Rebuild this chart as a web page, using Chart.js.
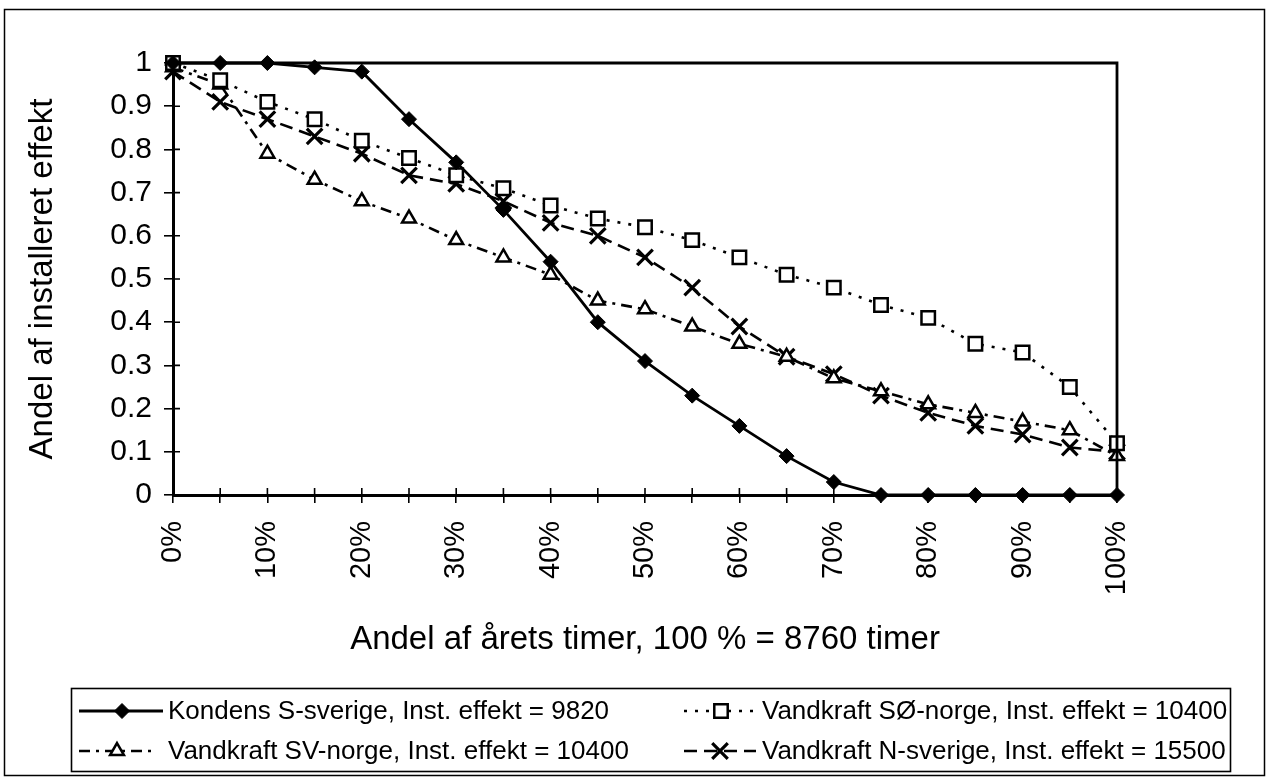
<!DOCTYPE html>
<html>
<head>
<meta charset="utf-8">
<style>
  html, body { margin: 0; padding: 0; background: #fff; }
  #wrap { position: relative; width: 1268px; height: 779px; }
  canvas { display: block; }
</style>
<script src="https://cdn.jsdelivr.net/npm/chart.js@4.4.0/dist/chart.umd.min.js"></script>
</head>
<body>
<div id="wrap"><canvas id="c" width="1268" height="779"></canvas></div>
<script>
// ---------- data ----------
const categories = ['0%','5%','10%','15%','20%','25%','30%','35%','40%','45%','50%','55%','60%','65%','70%','75%','80%','85%','90%','95%','100%'];
const xTickLabels = ['0%','','10%','','20%','','30%','','40%','','50%','','60%','','70%','','80%','','90%','','100%'];
const yTickLabels = ['0','0.1','0.2','0.3','0.4','0.5','0.6','0.7','0.8','0.9','1'];
const seriesNames = [
  'Kondens S-sverige, Inst. effekt = 9820',
  'Vandkraft SØ-norge, Inst. effekt = 10400',
  'Vandkraft SV-norge, Inst. effekt = 10400',
  'Vandkraft N-sverige, Inst. effekt = 15500'
];
const kondensSSverige  = [1.00,1.00,1.00,0.99,0.98,0.87,0.77,0.66,0.54,0.40,0.31,0.23,0.16,0.09,0.03,0.00,0.00,0.00,0.00,0.00,0.00];
const vandkraftSONorge = [1.00,0.96,0.91,0.87,0.82,0.78,0.74,0.71,0.67,0.64,0.62,0.59,0.55,0.51,0.48,0.44,0.41,0.35,0.33,0.25,0.12];
const vandkraftSVNorge = [0.99,0.95,0.79,0.73,0.68,0.64,0.59,0.55,0.51,0.45,0.43,0.39,0.35,0.32,0.27,0.24,0.21,0.19,0.17,0.15,0.09];
const vandkraftNSverige= [0.98,0.91,0.87,0.83,0.79,0.74,0.72,0.68,0.63,0.60,0.55,0.48,0.39,0.32,0.28,0.23,0.19,0.16,0.14,0.11,0.10];
const xTitle = 'Andel af årets timer, 100 % = 8760 timer';
const yTitle = 'Andel af installeret effekt';

// ---------- styling ----------
const FONT = "'Liberation Sans', Arial, Helvetica, sans-serif";
Chart.defaults.font.family = FONT;
Chart.defaults.color = '#000';

const datasets = [
  { label: seriesNames[0], data: kondensSSverige, borderColor:'#000', borderWidth:2.8, borderDash:[],
    pointStyle:'rectRot', pointRadius:7.5, pointBackgroundColor:'#000', pointBorderColor:'#000', pointBorderWidth:1 },
  { label: seriesNames[1], data: vandkraftSONorge, borderColor:'#000', borderWidth:2.6, borderDash:[3,8],
    pointStyle:'rect', pointRadius:9.5, pointBackgroundColor:'#fff', pointBorderColor:'#000', pointBorderWidth:2.5 },
  { label: seriesNames[2], data: vandkraftSVNorge, borderColor:'#000', borderWidth:2.6, borderDash:[11,6,3,6],
    pointStyle:'triangle', pointRadius:8, pointBackgroundColor:'#fff', pointBorderColor:'#000', pointBorderWidth:2.5 },
  { label: seriesNames[3], data: vandkraftNSverige, borderColor:'#000', borderWidth:2.6, borderDash:[13,7],
    pointStyle:'crossRot', pointRadius:11, pointBackgroundColor:'#000', pointBorderColor:'#000', pointBorderWidth:3.2 }
].map(d => Object.assign(d, { fill:false, tension:0, clip:false, pointHoverRadius:d.pointRadius }));

function drawMarker(ctx, ds, x, y) {
  const r = ds.pointRadius;
  ctx.save();
  ctx.setLineDash([]);
  ctx.lineWidth = ds.pointBorderWidth;
  ctx.strokeStyle = ds.pointBorderColor;
  ctx.fillStyle = ds.pointBackgroundColor;
  ctx.beginPath();
  if (ds.pointStyle === 'rectRot') {
    ctx.moveTo(x, y - r); ctx.lineTo(x + r, y); ctx.lineTo(x, y + r); ctx.lineTo(x - r, y); ctx.closePath();
    ctx.fill(); ctx.stroke();
  } else if (ds.pointStyle === 'rect') {
    const s = r * Math.SQRT1_2;
    ctx.rect(x - s, y - s, 2 * s, 2 * s); ctx.fill(); ctx.stroke();
  } else if (ds.pointStyle === 'triangle') {
    ctx.moveTo(x, y - r);
    ctx.lineTo(x + Math.cos(Math.PI/6) * r, y + Math.sin(Math.PI/6) * r);
    ctx.lineTo(x - Math.cos(Math.PI/6) * r, y + Math.sin(Math.PI/6) * r);
    ctx.closePath(); ctx.fill(); ctx.stroke();
  } else if (ds.pointStyle === 'crossRot') {
    const s = r * Math.SQRT1_2;
    ctx.moveTo(x - s, y - s); ctx.lineTo(x + s, y + s);
    ctx.moveTo(x + s, y - s); ctx.lineTo(x - s, y + s);
    ctx.stroke();
  }
  ctx.restore();
}

// legend layout
const legendBox = { left: 71, top: 688, right: 1230, bottom: 771 };
const legendRows = [711, 751];
const legendEntries = [
  { ds:0, x0:79,  x1:163, mx:122, tx:168, row:0 },
  { ds:1, x0:684, x1:758, mx:721, tx:762, row:0 },
  { ds:2, x0:79,  x1:155, mx:117, tx:168, row:1 },
  { ds:3, x0:684, x1:756, mx:720, tx:762, row:1 }
];

const decorPlugin = {
  id: 'decor',
  beforeDraw(chart) {
    const ctx = chart.ctx;
    ctx.save(); ctx.fillStyle = '#fff'; ctx.fillRect(0, 0, chart.width, chart.height); ctx.restore();
  },
  afterDraw(chart) {
    const ctx = chart.ctx;
    const a = chart.chartArea;
    const xs = chart.scales.x, ys = chart.scales.y;
    ctx.save();
    ctx.strokeStyle = '#000';
    ctx.setLineDash([]);
    // plot frame top & right
    ctx.lineWidth = 2.8;
    ctx.beginPath();
    ctx.moveTo(a.left, a.top); ctx.lineTo(a.right, a.top); ctx.lineTo(a.right, a.bottom);
    ctx.stroke();
    // inner tick parts (ticks cross the axes)
    ctx.lineWidth = 1.6;
    ctx.beginPath();
    xs.ticks.forEach((t, i) => { const x = xs.getPixelForTick(i); ctx.moveTo(x, a.bottom); ctx.lineTo(x, a.bottom - 7); });
    ys.ticks.forEach((t, i) => { const y = ys.getPixelForTick(i); ctx.moveTo(a.left, y); ctx.lineTo(a.left + 7, y); });
    ctx.stroke();
    // outer border
    ctx.lineWidth = 1.5;
    ctx.strokeRect(4.5, 9.5, 1260, 766);
    // legend box
    ctx.lineWidth = 1.6;
    ctx.strokeRect(legendBox.left + 0.5, legendBox.top + 0.5, legendBox.right - legendBox.left, legendBox.bottom - legendBox.top);
    // legend entries
    ctx.font = "26px " + FONT;
    ctx.fillStyle = '#000';
    ctx.textBaseline = 'middle';
    ctx.textAlign = 'left';
    legendEntries.forEach(e => {
      const ds = chart.data.datasets[e.ds];
      const y = legendRows[e.row];
      ctx.save();
      ctx.lineWidth = ds.borderWidth;
      ctx.setLineDash(ds.borderDash || []);
      ctx.beginPath(); ctx.moveTo(e.x0, y); ctx.lineTo(e.x1, y); ctx.stroke();
      ctx.restore();
      drawMarker(ctx, ds, e.mx, y);
      ctx.fillText(ds.label, e.tx, y + 1);
    });
    ctx.restore();
  }
};

new Chart(document.getElementById('c'), {
  type: 'line',
  data: { labels: categories, datasets: datasets },
  options: {
    responsive: false,
    animation: false,
    devicePixelRatio: 1,
    events: [],
    layout: { padding: { top: 63, right: 151, left: 10, bottom: 94 } },
    plugins: { legend: { display: false }, tooltip: { enabled: false }, title: { display: false } },
    scales: {
      x: {
        type: 'category',
        offset: false,
        afterFit(scale) { scale.height = 190; },
        grid: { offset: false, drawOnChartArea: false, drawTicks: true, tickLength: 8, color: '#000', lineWidth: 1.6 },
        border: { display: true, color: '#000', width: 3 },
        ticks: {
          autoSkip: false, minRotation: 90, maxRotation: 90, padding: 18,
          font: { size: 29, family: FONT }, color: '#000',
          callback: (v, i) => xTickLabels[i]
        },
        title: { display: true, text: xTitle, font: { size: 33, family: FONT }, color: '#000', padding: { top: 0, bottom: 25 } }
      },
      y: {
        min: 0, max: 1,
        afterFit(scale) { scale.width = 163; },
        grid: { drawOnChartArea: false, drawTicks: true, tickLength: 9, color: '#000', lineWidth: 1.6 },
        border: { display: true, color: '#000', width: 3 },
        ticks: {
          stepSize: 0.1, padding: 12,
          font: { size: 30, family: FONT }, color: '#000',
          callback: (v, i) => yTickLabels[i]
        },
        title: { display: true, text: yTitle, font: { size: 33, family: FONT }, color: '#000', padding: { top: 13, bottom: 0 } }
      }
    }
  },
  plugins: [decorPlugin]
});
</script>
</body>
</html>
